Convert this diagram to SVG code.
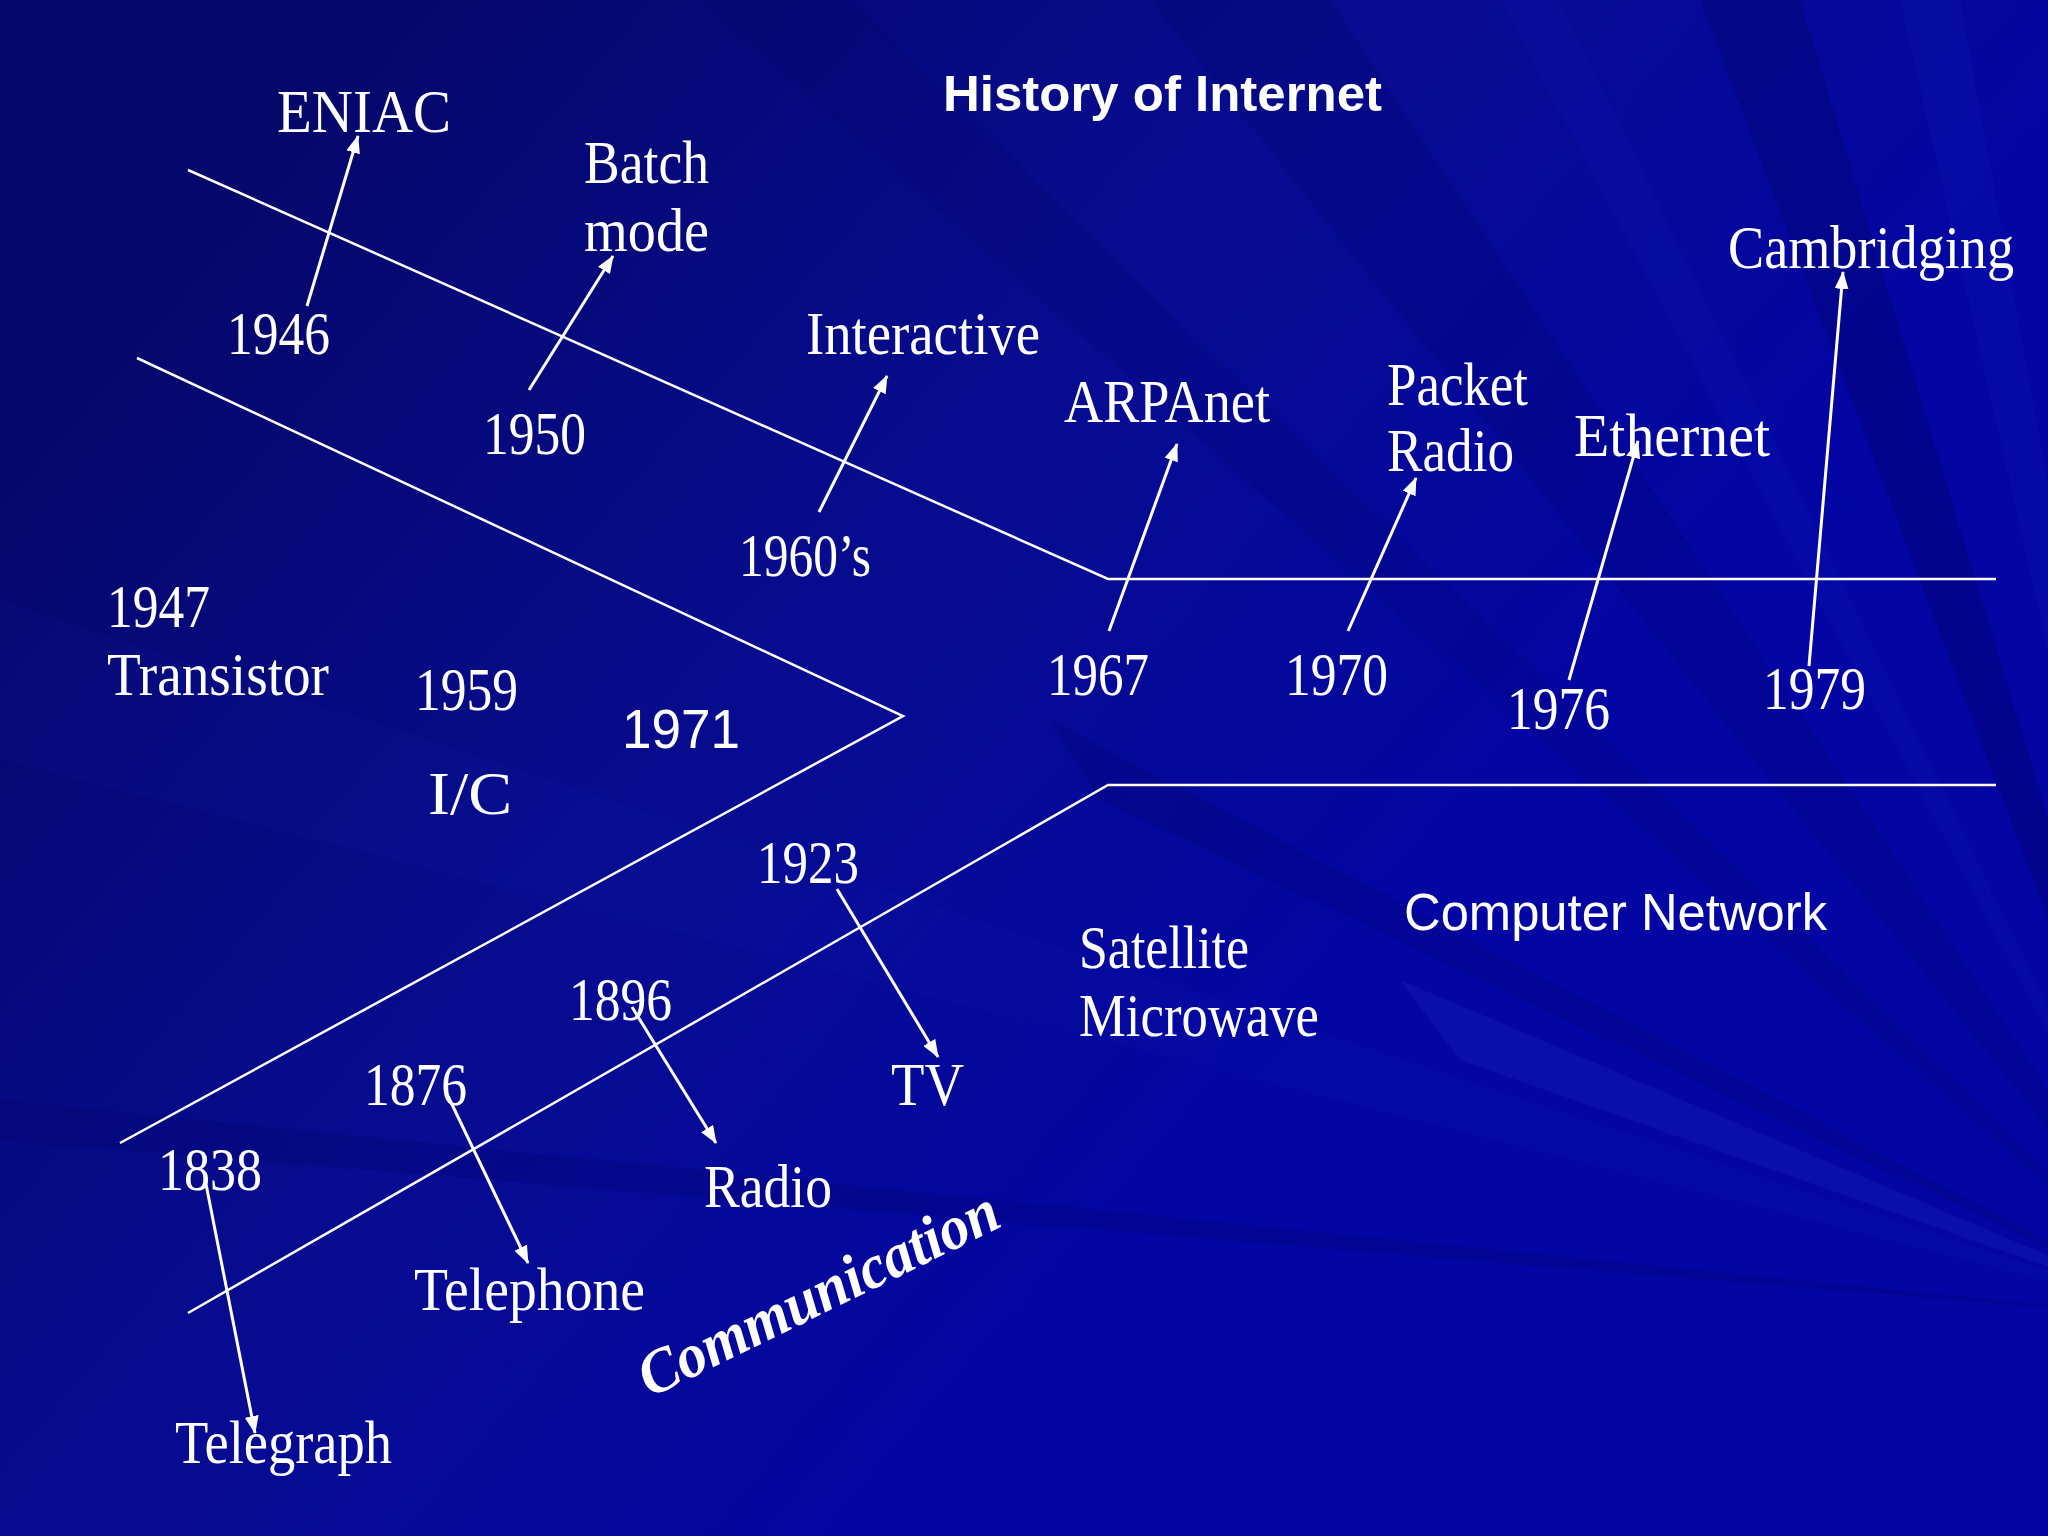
<svg xmlns="http://www.w3.org/2000/svg" width="2048" height="1536" viewBox="0 0 2048 1536">
  <defs>
    <linearGradient id="bg" gradientUnits="userSpaceOnUse" x1="250" y1="150" x2="1300" y2="1050">
      <stop offset="0" stop-color="#05076a"/>
      <stop offset="0.55" stop-color="#070c90"/>
      <stop offset="1" stop-color="#0306a2"/>
    </linearGradient>
    <marker id="ah" viewBox="0 0 18 14" refX="17" refY="7" markerWidth="18" markerHeight="14" markerUnits="userSpaceOnUse" orient="auto">
      <path d="M0,0 L18,7 L0,14 z" fill="#ffffff"/>
    </marker>
    <style>
      .t { font-family: "Liberation Serif", "Times New Roman", serif; font-size: 62px; fill: #ffffff; }
      .s { font-family: "Liberation Sans", Arial, sans-serif; fill: #ffffff; }
      .axis { fill: none; stroke: #ffffff; stroke-width: 2.5; }
      .arr { fill: none; stroke: #ffffff; stroke-width: 3; marker-end: url(#ah); }
    </style>
  </defs>

  <!-- background -->
  <rect x="0" y="0" width="2048" height="1536" fill="url(#bg)"/>
  <g id="rays">
    <polygon points="2200,1320 1150,0 1330,0" fill="#000050" opacity="0.15"/>
    <polygon points="2200,1320 1700,0 1800,0" fill="#000040" opacity="0.2"/>
    <polygon points="2200,1320 1900,0 1960,0" fill="#1a2ad0" opacity="0.12"/>
    <polygon points="2200,1320 1500,0 1560,0" fill="#1a2ad0" opacity="0.1"/>
    <polygon points="2200,1320 700,0 850,0" fill="#000050" opacity="0.12"/>
    <polygon points="2200,1320 0,600 0,760" fill="#1525c0" opacity="0.08"/>
    <polygon points="2200,1320 1400,980 1460,1060" fill="#2a35c8" opacity="0.2"/>
    <polygon points="2200,1320 1050,720 1100,800" fill="#000050" opacity="0.15"/>
    <polygon points="2200,1320 0,1100 0,1140" fill="#000060" opacity="0.2"/>
    <polygon points="2200,1320 2048,880 2048,940" fill="#2a35c8" opacity="0.15"/>
  </g>

  <!-- connectors -->
  <g id="connectors">
    <polyline class="axis" points="188,170 1108,579 1996,579"/>
    <polyline class="axis" points="137,358 903,716 120,1143"/>
    <polyline class="axis" points="188,1313 1108,785 1996,785"/>

    <line class="arr" x1="307" y1="306" x2="358" y2="136"/>
    <line class="arr" x1="529" y1="390" x2="613" y2="256"/>
    <line class="arr" x1="819" y1="512" x2="887" y2="376"/>
    <line class="arr" x1="1109" y1="631" x2="1177" y2="444"/>
    <line class="arr" x1="1348" y1="631" x2="1416" y2="478"/>
    <line class="arr" x1="1569" y1="680" x2="1638" y2="441"/>
    <line class="arr" x1="1809" y1="666" x2="1843" y2="272"/>
    <line class="arr" x1="837" y1="889" x2="938" y2="1057"/>
    <line class="arr" x1="632" y1="1007" x2="716" y2="1143"/>
    <line class="arr" x1="447" y1="1094" x2="528" y2="1263"/>
    <line class="arr" x1="205" y1="1179" x2="255" y2="1433"/>
  </g>

  <!-- title -->
  <g id="title">
    <text class="s" x="943" y="111" font-size="50" font-weight="bold" textLength="439" lengthAdjust="spacingAndGlyphs">History of Internet</text>
  </g>

  <!-- computing branch -->
  <g id="n-eniac"><text class="t" x="277" y="132" textLength="174" lengthAdjust="spacingAndGlyphs">ENIAC</text></g>
  <g id="n-batch">
    <text class="t" x="584" y="183" textLength="125" lengthAdjust="spacingAndGlyphs">Batch</text>
    <text class="t" x="584" y="251" textLength="125" lengthAdjust="spacingAndGlyphs">mode</text>
  </g>
  <g id="n-1946"><text class="t" x="227" y="354" textLength="103" lengthAdjust="spacingAndGlyphs">1946</text></g>
  <g id="n-1950"><text class="t" x="483" y="454" textLength="103" lengthAdjust="spacingAndGlyphs">1950</text></g>
  <g id="n-interactive"><text class="t" x="806" y="354" textLength="234" lengthAdjust="spacingAndGlyphs">Interactive</text></g>
  <g id="n-1960s"><text class="t" x="739" y="576" textLength="132" lengthAdjust="spacingAndGlyphs">1960’s</text></g>

  <!-- network branch -->
  <g id="n-arpanet"><text class="t" x="1064" y="422" textLength="206" lengthAdjust="spacingAndGlyphs">ARPAnet</text></g>
  <g id="n-packet">
    <text class="t" x="1387" y="405" textLength="141" lengthAdjust="spacingAndGlyphs">Packet</text>
    <text class="t" x="1387" y="471" textLength="127" lengthAdjust="spacingAndGlyphs">Radio</text>
  </g>
  <g id="n-ethernet"><text class="t" x="1574" y="456" textLength="196" lengthAdjust="spacingAndGlyphs">Ethernet</text></g>
  <g id="n-cambridging"><text class="t" x="1728" y="268" font-size="55" textLength="286" lengthAdjust="spacingAndGlyphs">Cambridging</text></g>
  <g id="n-1967"><text class="t" x="1047" y="695" textLength="102" lengthAdjust="spacingAndGlyphs">1967</text></g>
  <g id="n-1970"><text class="t" x="1285" y="695" textLength="103" lengthAdjust="spacingAndGlyphs">1970</text></g>
  <g id="n-1976"><text class="t" x="1507" y="729" textLength="103" lengthAdjust="spacingAndGlyphs">1976</text></g>
  <g id="n-1979"><text class="t" x="1763" y="709" textLength="103" lengthAdjust="spacingAndGlyphs">1979</text></g>

  <!-- middle -->
  <g id="n-1947">
    <text class="t" x="107" y="627" textLength="103" lengthAdjust="spacingAndGlyphs">1947</text>
    <text class="t" x="107" y="695" textLength="222" lengthAdjust="spacingAndGlyphs">Transistor</text>
  </g>
  <g id="n-1959"><text class="t" x="415" y="710" textLength="103" lengthAdjust="spacingAndGlyphs">1959</text></g>
  <g id="n-1971"><text class="s" x="622" y="748" font-size="55" textLength="118" lengthAdjust="spacingAndGlyphs">1971</text></g>
  <g id="n-ic"><text class="t" x="428" y="814" textLength="84" lengthAdjust="spacingAndGlyphs">I/C</text></g>

  <!-- communication branch -->
  <g id="n-1923"><text class="t" x="757" y="883" textLength="102" lengthAdjust="spacingAndGlyphs">1923</text></g>
  <g id="n-computer-network"><text class="s" x="1404" y="930" font-size="52" textLength="423" lengthAdjust="spacingAndGlyphs">Computer Network</text></g>
  <g id="n-satellite">
    <text class="t" x="1079" y="968" textLength="170" lengthAdjust="spacingAndGlyphs">Satellite</text>
    <text class="t" x="1079" y="1036" textLength="240" lengthAdjust="spacingAndGlyphs">Microwave</text>
  </g>
  <g id="n-1896"><text class="t" x="569" y="1020" textLength="103" lengthAdjust="spacingAndGlyphs">1896</text></g>
  <g id="n-1876"><text class="t" x="364" y="1105" textLength="103" lengthAdjust="spacingAndGlyphs">1876</text></g>
  <g id="n-tv"><text class="t" x="891" y="1105" textLength="73" lengthAdjust="spacingAndGlyphs">TV</text></g>
  <g id="n-1838"><text class="t" x="158" y="1190" textLength="104" lengthAdjust="spacingAndGlyphs">1838</text></g>
  <g id="n-radio"><text class="t" x="704" y="1207" textLength="128" lengthAdjust="spacingAndGlyphs">Radio</text></g>
  <g id="n-telephone"><text class="t" x="414" y="1310" textLength="231" lengthAdjust="spacingAndGlyphs">Telephone</text></g>
  <g id="n-telegraph"><text class="t" x="175" y="1463" textLength="217" lengthAdjust="spacingAndGlyphs">Telegraph</text></g>
  <g id="n-communication">
    <text class="t" transform="translate(650,1398) rotate(-26)" x="0" y="0" font-size="58" font-weight="bold" font-style="italic" textLength="394" lengthAdjust="spacingAndGlyphs">Communication</text>
  </g>
</svg>
